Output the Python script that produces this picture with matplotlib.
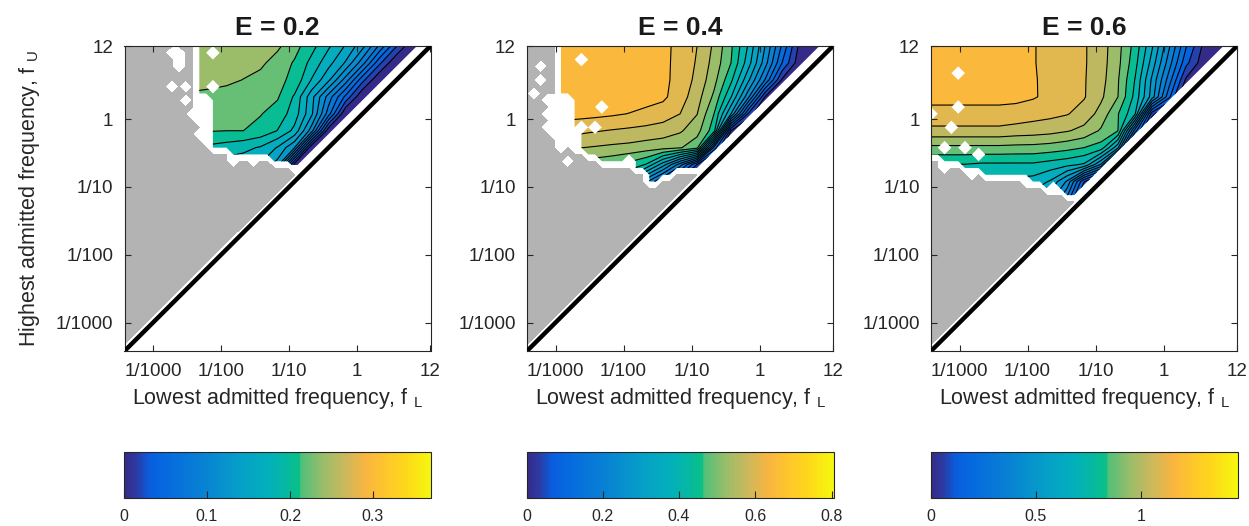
import numpy as np
import matplotlib
matplotlib.use('Agg')
import matplotlib.pyplot as plt
from matplotlib.colors import LinearSegmentedColormap, Normalize
from matplotlib.cm import ScalarMappable
from matplotlib.patches import PathPatch

plt.rcParams['font.family'] = ['Liberation Sans', 'DejaVu Sans']
plt.rcParams['mathtext.default'] = 'regular'

nan = np.nan

# ---- data -------------------------------------------------------------
TITLES = ['E = 0.2', 'E = 0.4', 'E = 0.6']
CBAR_MAX = [0.37, 0.805, 1.46]
CBAR_TICKS = [[0, 0.1, 0.2, 0.3], [0, 0.2, 0.4, 0.6, 0.8], [0, 0.5, 1]]
CBAR_LABELS = [['0', '0.1', '0.2', '0.3'], ['0', '0.2', '0.4', '0.6', '0.8'],
               ['0', '0.5', '1']]
FREQ_TICKS = [1 / 1000, 1 / 100, 1 / 10, 1, 12]
FREQ_LABELS = ['1/1000', '1/100', '1/10', '1', '12']
LOG_F_MIN, LOG_F_MAX = -3.42, 1.08

# mask grid: 46 nodes, 0.1 decade apart; value grid: 19 nodes, 0.25 decade
N_MASK, MASK_STEP = 46, 0.1
N_VAL, VAL_STEP = 19, 0.25

# lowest f_U node (mask grid index) that has a result, per f_L column
LOWEST_E02 = [99, 99, 99, 99, 99, 99, 99, 99, 99, 99, 99, 38, 38, 30, 30, 30,
              29, 29, 29, 29, 29, 29, 28, 28, 28, 27, 28, 29, 30, 31, 32, 33,
              34, 35, 36, 37, 38, 39, 40, 41, 42, 43, 44, 45, 46, 47]
LOWEST_E04 = [99, 99, 99, 99, 99, 38, 38, 33, 30, 29, 29, 28, 28, 28, 28, 28,
              27, 27, 25, 25, 26, 26, 27, 27, 27, 27, 28, 29, 30, 31, 32, 33,
              34, 35, 36, 37, 38, 39, 40, 41, 42, 43, 44, 45, 46, 47]
LOWEST_E06 = [29, 29, 28, 28, 28, 27, 27, 27, 26, 26, 26, 26, 26, 26, 25, 25,
              25, 24, 24, 24, 23, 23, 24, 25, 26, 27, 28, 29, 30, 31, 32, 33,
              34, 35, 36, 37, 38, 39, 40, 41, 42, 43, 44, 45, 46, 47]

# blank nodes: (f_L index, first f_U index, last f_U index)
BLANK_E02 = [(7, 44, 44), (8, 42, 44), (7, 39, 39), (9, 39, 39), (9, 37, 37),
             (10, 35, 35), (11, 32, 32), (11, 34, 37), (12, 31, 37),
             (13, 44, 44), (13, 39, 39), (16, 28, 28), (19, 28, 28)]
BLANK_E04 = [(1, 38, 38), (2, 40, 40), (2, 42, 42), (3, 33, 33), (3, 35, 35),
             (3, 37, 37), (4, 32, 37), (5, 30, 37), (6, 31, 36), (7, 30, 30),
             (7, 32, 32), (8, 43, 43), (8, 33, 33), (10, 33, 33),
             (11, 36, 36), (6, 28, 28), (15, 28, 28)]
BLANK_E06 = [(4, 41, 41), (4, 36, 36), (3, 33, 33), (0, 35, 35), (2, 30, 30),
             (5, 30, 30), (7, 29, 29), (2, 27, 27), (6, 26, 26), (14, 25, 25),
             (18, 24, 24)]

# value grid rows, from f_U = 12 downwards, columns f_L from low to high
VALUES_E02 = [
    [nan, nan, nan, nan, 0.255, 0.255, 0.255, 0.252, 0.249, 0.244, 0.229,
     0.210, 0.188, 0.165, 0.136, 0.089, 0.038, 0.0, -0.03],
    [nan, nan, nan, nan, 0.255, 0.255, 0.252, 0.248, 0.244, 0.233, 0.220,
     0.198, 0.173, 0.146, 0.100, 0.041, 0.0, -0.03, -0.06],
    [nan, nan, nan, nan, 0.250, 0.248, 0.245, 0.240, 0.235, 0.227, 0.217,
     0.184, 0.152, 0.103, 0.043, 0.0, -0.03, -0.05, -0.07],
    [nan, nan, nan, nan, 0.236, 0.234, 0.232, 0.230, 0.227, 0.224, 0.201,
     0.155, 0.103, 0.051, 0.0, -0.03, -0.05, -0.07, -0.09],
    [nan, nan, nan, nan, 0.233, 0.230, 0.227, 0.225, 0.223, 0.214, 0.195,
     0.152, 0.083, 0.0, -0.04, -0.06, -0.08, -0.09, -0.10],
    [nan, nan, nan, nan, 0.224, 0.223, 0.222, 0.222, 0.216, 0.203, 0.180,
     0.120, 0.005, -0.05, -0.07, -0.09, -0.10, -0.11, -0.12],
    [nan, nan, nan, nan, 0.200, 0.199, 0.195, 0.190, 0.183, 0.165, 0.130,
     0.0, -0.05, -0.08, -0.09, -0.10, -0.11, -0.12, -0.13],
    [nan, nan, nan, nan, 0.178, 0.177, 0.176, 0.174, 0.165, 0.140, 0.010,
     -0.05, -0.08, -0.09, -0.10, -0.11, -0.12, -0.13, -0.14],
]
VALUES_E04 = [
    [nan, nan, 0.67, 0.67, 0.67, 0.67, 0.67, 0.67, 0.655, 0.632, 0.604, 0.557,
     0.490, 0.400, 0.282, 0.155, 0.034, 0.0, -0.03],
    [nan, nan, 0.67, 0.67, 0.67, 0.67, 0.67, 0.67, 0.655, 0.630, 0.600, 0.549,
     0.483, 0.382, 0.260, 0.121, 0.016, -0.03, -0.05],
    [nan, nan, 0.67, 0.67, 0.67, 0.67, 0.67, 0.67, 0.655, 0.628, 0.594, 0.537,
     0.452, 0.333, 0.200, 0.035, -0.04, -0.05, -0.07],
    [nan, nan, 0.67, 0.67, 0.67, 0.67, 0.666, 0.660, 0.652, 0.622, 0.581,
     0.515, 0.405, 0.256, 0.040, -0.04, -0.06, -0.08, -0.09],
    [nan, nan, 0.660, 0.658, 0.655, 0.650, 0.643, 0.634, 0.624, 0.604, 0.565,
     0.483, 0.322, 0.080, -0.05, -0.07, -0.08, -0.09, -0.10],
    [nan, nan, 0.619, 0.614, 0.607, 0.601, 0.596, 0.591, 0.584, 0.569, 0.539,
     0.460, 0.040, -0.05, -0.07, -0.08, -0.09, -0.10, -0.11],
    [nan, nan, 0.566, 0.565, 0.560, 0.555, 0.551, 0.543, 0.537, 0.527, 0.496,
     0.150, -0.05, -0.06, -0.08, -0.09, -0.10, -0.11, -0.12],
    [nan, nan, 0.50, 0.50, 0.50, 0.49, 0.47, 0.44, 0.34, 0.22, 0.08, -0.05,
     -0.07, -0.08, -0.09, -0.10, -0.11, -0.12, -0.13],
    [nan, nan, 0.46, 0.46, 0.45, 0.43, 0.38, 0.25, 0.15, 0.05, -0.02, -0.06,
     -0.08, -0.09, -0.10, -0.11, -0.12, -0.13, -0.14],
]
VALUES_E06 = [
    [1.20, 1.20, 1.20, 1.20, 1.20, 1.20, 1.172, 1.149, 1.126, 1.103, 1.055,
     0.974, 0.849, 0.668, 0.45, 0.227, 0.062, 0.005, -0.03],
    [1.20, 1.20, 1.20, 1.20, 1.20, 1.20, 1.172, 1.149, 1.126, 1.103, 1.053,
     0.968, 0.830, 0.626, 0.399, 0.168, 0.031, -0.02, -0.04],
    [1.20, 1.20, 1.20, 1.20, 1.20, 1.20, 1.175, 1.148, 1.125, 1.101, 1.049,
     0.955, 0.80, 0.57, 0.33, 0.06, -0.05, -0.06, -0.07],
    [1.185, 1.185, 1.185, 1.185, 1.185, 1.185, 1.175, 1.150, 1.126, 1.101,
     1.035, 0.949, 0.78, 0.55, 0.24, -0.05, -0.06, -0.07, -0.08],
    [1.150, 1.150, 1.150, 1.150, 1.150, 1.142, 1.126, 1.115, 1.10, 1.064,
     0.997, 0.88, 0.74, 0.10, -0.05, -0.07, -0.08, -0.09, -0.10],
    [1.074, 1.074, 1.074, 1.074, 1.074, 1.063, 1.057, 1.047, 1.028, 1.001,
     0.939, 0.876, 0.33, -0.05, -0.07, -0.08, -0.09, -0.10, -0.11],
    [0.931, 0.931, 0.931, 0.931, 0.931, 0.927, 0.925, 0.916, 0.90, 0.876,
     0.844, 0.60, -0.05, -0.07, -0.08, -0.09, -0.10, -0.11, -0.12],
    [0.80, 0.80, 0.80, 0.79, 0.79, 0.79, 0.79, 0.77, 0.75, 0.72, 0.50, -0.05,
     -0.07, -0.08, -0.09, -0.10, -0.11, -0.12, -0.13],
    [0.72, 0.72, 0.72, 0.72, 0.72, 0.71, 0.70, 0.65, 0.50, 0.15, -0.05, -0.07,
     -0.08, -0.09, -0.10, -0.11, -0.12, -0.13, -0.14],
    [0.65, 0.65, 0.65, 0.65, 0.65, 0.64, 0.62, 0.55, 0.35, 0.0, -0.08, -0.09,
     -0.10, -0.11, -0.12, -0.13, -0.14, -0.15, -0.16],
]

LOWEST = [LOWEST_E02, LOWEST_E04, LOWEST_E06]
BLANK = [BLANK_E02, BLANK_E04, BLANK_E06]
VALUES = [VALUES_E02, VALUES_E04, VALUES_E06]

# ---- style ------------------------------------------------------------
TEXT = '#262626'
GRAY = '#b3b3b3'
cmap = LinearSegmentedColormap.from_list('efficiency', [
    (0.00, '#352a87'), (0.04, '#2c3aa3'), (0.08, '#0a5cdc'),
    (0.12, '#0667e0'), (0.25, '#0880d4'), (0.38, '#06a0c8'),
    (0.47, '#02b0bb'), (0.53, '#06b9a0'), (0.572, '#0abf86'),
    (0.578, '#50c07a'), (0.65, '#9abd6a'), (0.72, '#cbb85c'),
    (0.79, '#f9b540'), (0.86, '#fec82a'), (0.92, '#fdd81a'),
    (1.00, '#f6f80f')])

W, H = 1249, 526
AX_LEFT = [124.5, 527, 931]
fine = LOG_F_MIN + MASK_STEP * np.arange(N_MASK)
coarse = LOG_F_MIN + VAL_STEP * np.arange(N_VAL)

fig = plt.figure(figsize=(W / 100, H / 100), dpi=100)

for p in range(3):
    ax = fig.add_axes([AX_LEFT[p] / W, 175 / H, 306 / W, 305 / H])

    # node status: 0 blank, 1 no result (gray), 2 result
    rows = np.arange(N_MASK)[:, None]
    cols = np.arange(N_MASK)[None, :]
    status = np.where(rows > cols, 1, 0)
    status[(rows > cols) & (rows >= np.array(LOWEST[p])[None, :])] = 2
    for i, j0, j1 in BLANK[p]:
        status[j0:j1 + 1, i] = 0
    ones = np.ones(status.shape)

    gray = np.ma.masked_where(status != 1, ones)
    ax.contourf(fine, fine, gray, levels=[0.5, 1.5], colors=[GRAY],
                corner_mask=True)

    # outline of the region with results, used to clip the coloured map
    valid = np.ma.masked_where(status != 2, ones)
    tmp = ax.contourf(fine, fine, valid, levels=[0.5, 1.5], corner_mask=True)
    region = tmp.get_paths()[0]
    tmp.remove()
    clip = PathPatch(region, transform=ax.transData, facecolor='none',
                     edgecolor='none')
    ax.add_patch(clip)

    z = np.full((N_VAL, N_VAL), nan)
    for k, row in enumerate(VALUES[p]):
        z[N_VAL - 1 - k] = row
    z = np.ma.masked_invalid(z)

    cmax = CBAR_MAX[p]
    lev = np.linspace(0, cmax, 21)
    fill_levels = [-10.0] + list(lev[1:20]) + [cmax * 10]
    band_colors = [cmap(lev[k] / cmax) for k in range(20)]
    cf = ax.contourf(coarse, coarse, z, levels=fill_levels,
                     colors=band_colors, corner_mask=True)
    cl = ax.contour(coarse, coarse, z, levels=lev[1:20], colors='k',
                    linewidths=0.8)
    cf.set_clip_path(clip)
    cl.set_clip_path(clip)

    ax.plot([LOG_F_MIN, LOG_F_MAX], [LOG_F_MIN, LOG_F_MAX], color='k',
            lw=3.2, solid_capstyle='butt', zorder=4)

    ax.set_xlim(LOG_F_MIN, LOG_F_MAX)
    ax.set_ylim(LOG_F_MIN, LOG_F_MAX)
    ax.set_xticks(np.log10(FREQ_TICKS))
    ax.set_xticklabels(FREQ_LABELS)
    ax.set_yticks(np.log10(FREQ_TICKS))
    ax.set_yticklabels(FREQ_LABELS)
    ax.tick_params(direction='in', top=True, right=True, length=4, width=0.8,
                   colors=TEXT, labelsize=13.5)
    ax.tick_params(axis='x', pad=9)
    ax.tick_params(axis='y', pad=8)
    for s in ax.spines.values():
        s.set_color(TEXT)
        s.set_linewidth(0.8)

    ax.set_title(TITLES[p], fontsize=19, fontweight='bold', color='#1a1a1a',
                 pad=8)
    ax.set_xlabel('Lowest admitted frequency, f $_L$', fontsize=15.5,
                  color=TEXT, labelpad=4)
    if p == 0:
        ax.set_ylabel('Highest admitted frequency, f $_U$', fontsize=15.5,
                      color=TEXT, labelpad=10)

    # colour bar
    cax = fig.add_axes([(AX_LEFT[p] - 0.5) / W, 28 / H, 307 / W, 46 / H])
    cb = fig.colorbar(ScalarMappable(norm=Normalize(0, cmax), cmap=cmap),
                      cax=cax, orientation='horizontal',
                      ticks=CBAR_TICKS[p])
    cb.ax.set_xticklabels(CBAR_LABELS[p])
    cb.ax.tick_params(direction='in', length=5, width=0.8, colors=TEXT,
                      labelsize=11.5, pad=8)
    cb.outline.set_edgecolor(TEXT)
    cb.outline.set_linewidth(0.8)

fig.savefig('out.png', dpi=100)
